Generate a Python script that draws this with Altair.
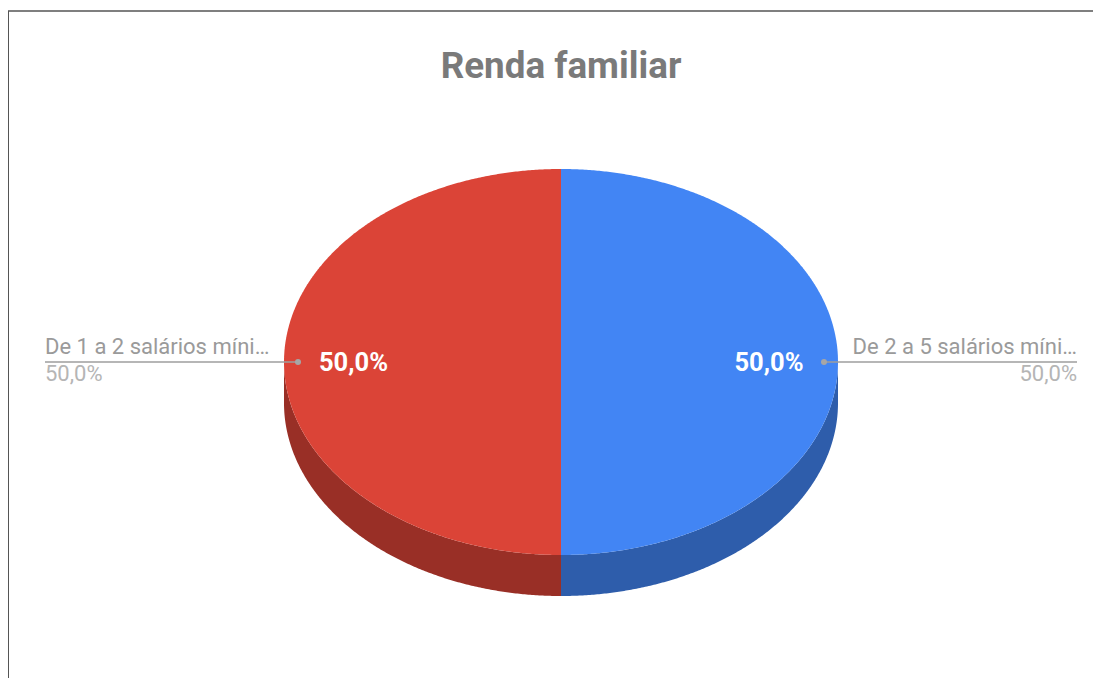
import numpy as np
import pandas as pd
import altair as alt

title = "Renda familiar"
categories = ["De 1 a 2 salários míni…", "De 2 a 5 salários míni…"]
shares = [50.0, 50.0]
top_colors = ["#DB4437", "#4285F4"]
side_colors = ["#992F26", "#2E5DAB"]

CX, CY, RX, RY, DEPTH = 561, 362, 277, 193, 41
W, H = 1085, 670
xs = alt.Scale(domain=[8, 8 + W], range=[0, W], nice=False, zero=False)
ys = alt.Scale(domain=[8 + H, 8], range=[H, 0], nice=False, zero=False)
X = lambda f="x": alt.X(f"{f}:Q", scale=xs, axis=None)
Y = lambda f="y": alt.Y(f"{f}:Q", scale=ys, axis=None)

def slice_frame(share, sign):
    t = np.radians(np.linspace(0, share / 100 * 180, 240))
    return pd.DataFrame({
        "x": CX + sign * RX * np.cos(t),
        "low": CY + RY * np.sin(t),
        "high": CY - RY * np.sin(t),
        "bottom": CY + RY * np.sin(t) + DEPTH,
    })

layers = []
signs = [-1, 1]
for share, sign, top, side in zip(shares, signs, top_colors, side_colors):
    d = alt.Data(values=slice_frame(share, sign).to_dict("records"))
    layers.append(alt.Chart(d).mark_area(color=side, interpolate="linear").encode(
        x=X(), y=Y("low"), y2=alt.Y2("bottom:Q")))
for share, sign, top, side in zip(shares, signs, top_colors, side_colors):
    d = alt.Data(values=slice_frame(share, sign).to_dict("records"))
    layers.append(alt.Chart(d).mark_area(color=top, interpolate="linear").encode(
        x=X(), y=Y("high"), y2=alt.Y2("low:Q")))

def fmt(v):
    return f"{v:.1f}%".replace(".", ",")

# leader lines and dots
lead = pd.DataFrame({"x": [45, 824], "x2": [298, 1077], "y": [CY, CY]})
layers.append(alt.Chart(lead).mark_rule(color="#9e9e9e", strokeWidth=1.5).encode(
    x=X(), x2="x2:Q", y=Y()))
dots = pd.DataFrame({"x": [298, 824], "y": [CY, CY]})
layers.append(alt.Chart(dots).mark_point(filled=True, color="#a6a6a6", size=36, opacity=1).encode(
    x=X(), y=Y()))

font = "Roboto"
def text_layer(rows, **kw):
    return alt.Chart(pd.DataFrame(rows)).mark_text(font=font, **kw).encode(
        x=X(), y=Y(), text="t:N")

layers.append(text_layer({"x": [561], "y": [67], "t": [title]},
                         fontSize=36.8, fontWeight="bold", color="#7a7a7a", align="center", baseline="middle"))
layers.append(text_layer({"x": [353.5, 769], "y": [362.5, 362.5], "t": [fmt(v) for v in shares]},
                         fontSize=25.5, fontWeight="bold", color="#ffffff", align="center", baseline="middle"))
layers.append(text_layer({"x": [45], "y": [346.5], "t": [categories[0]]},
                         fontSize=22, color="#9a9a9a", align="left", baseline="middle"))
layers.append(text_layer({"x": [1077], "y": [346.5], "t": [categories[1]]},
                         fontSize=22, color="#9a9a9a", align="right", baseline="middle"))
layers.append(text_layer({"x": [45], "y": [374], "t": [fmt(shares[0])]},
                         fontSize=22, color="#b5b5b5", align="left", baseline="middle"))
layers.append(text_layer({"x": [1077], "y": [374], "t": [fmt(shares[1])]},
                         fontSize=22, color="#b5b5b5", align="right", baseline="middle"))

# frame: top and left edges
layers.append(alt.Chart(pd.DataFrame({"x": [8], "x2": [8 + W], "y": [11]})).mark_rule(
    color="#555555", strokeWidth=1.5).encode(x=X(), x2="x2:Q", y=Y()))
layers.append(alt.Chart(pd.DataFrame({"x": [8], "y": [11], "y2": [8 + H]})).mark_rule(
    color="#555555", strokeWidth=2).encode(x=X(), y=Y(), y2="y2:Q"))

chart = alt.layer(*layers).properties(
    width=W, height=H, padding=0, autosize=alt.AutoSizeParams(type="none"),
    background="#ffffff",
).configure_view(stroke=None)

chart.save("out.html", embed_options={"renderer": "svg", "actions": False})
